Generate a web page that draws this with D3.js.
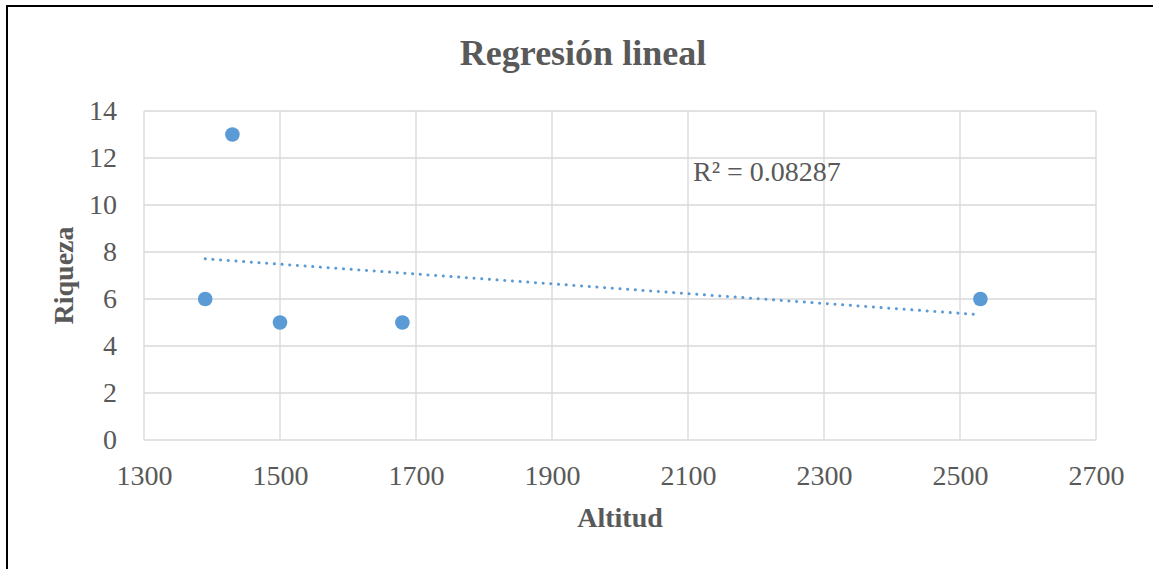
<!DOCTYPE html>
<html>
<head>
<meta charset="utf-8">
<script src="https://cdn.jsdelivr.net/npm/d3@7"></script>
<style>
  body { margin: 0; background: #fff; }
  svg { display: block; }
</style>
</head>
<body>
<div id="chart"></div>
<script>
// data
var altitud = [1390, 1430, 1500, 1680, 2530];
var riqueza = [6, 13, 5, 5, 6];
// trendline ends (as drawn)
var trendX = [1390, 2530];
var trendY = [7.71, 5.33];
var xTicks = [1300, 1500, 1700, 1900, 2100, 2300, 2500, 2700];
var yTicks = [0, 2, 4, 6, 8, 10, 12, 14];
var r2Label = "R² = 0.08287";

var W = 1153, H = 569;
var margin = {top: 111, right: 57, bottom: 129, left: 144},
    width = W - margin.left - margin.right,
    height = H - margin.top - margin.bottom;

var svg = d3.select("#chart").append("svg")
    .attr("width", W)
    .attr("height", H);

// outer frame
svg.append("rect")
  .attr("x", 7).attr("y", 6)
  .attr("width", W + 20).attr("height", H + 20)
  .attr("fill", "none")
  .attr("stroke", "#000")
  .attr("stroke-width", 2);

var g = svg.append("g")
  .attr("transform", "translate(" + margin.left + "," + margin.top + ")");

var x = d3.scaleLinear().domain([1300, 2700]).range([0, width]);
var y = d3.scaleLinear().domain([0, 14]).range([height, 0]);

var font = "'Liberation Serif', 'Times New Roman', serif";
var grey = "#595959";

// gridlines
g.selectAll(".vgrid").data(xTicks).enter().append("line")
  .attr("x1", function(d) { return x(d); }).attr("x2", function(d) { return x(d); })
  .attr("y1", 0).attr("y2", height)
  .attr("stroke", "#d9d9d9").attr("stroke-width", 1.3);
g.selectAll(".hgrid").data(yTicks).enter().append("line")
  .attr("x1", 0).attr("x2", width)
  .attr("y1", function(d) { return y(d); }).attr("y2", function(d) { return y(d); })
  .attr("stroke", "#d9d9d9").attr("stroke-width", 1.3);

// axes (labels only)
var xAxis = g.append("g")
  .attr("transform", "translate(0," + height + ")")
  .call(d3.axisBottom(x).tickValues(xTicks).tickSize(0).tickPadding(45).tickFormat(d3.format("d")));
var yAxis = g.append("g")
  .call(d3.axisLeft(y).tickValues(yTicks).tickSize(0).tickPadding(27).tickFormat(d3.format("d")));
[xAxis, yAxis].forEach(function(a) {
  a.select(".domain").remove();
  a.selectAll("text")
    .attr("fill", grey)
    .style("font-family", font)
    .style("font-size", "28px");
});
xAxis.selectAll("text").attr("dy", null).attr("dominant-baseline", "auto");

// trendline
g.append("path")
  .datum(d3.zip(trendX, trendY))
  .attr("fill", "none")
  .attr("stroke", "#5b9bd5")
  .attr("stroke-width", 3)
  .attr("stroke-linecap", "round")
  .attr("stroke-dasharray", "0.1,7.6")
  .attr("d", d3.line()
    .x(function(d) { return x(d[0]); })
    .y(function(d) { return y(d[1]); }));

// points
g.selectAll(".dot").data(d3.zip(altitud, riqueza)).enter().append("circle")
  .attr("cx", function(d) { return x(d[0]); })
  .attr("cy", function(d) { return y(d[1]); })
  .attr("r", 7.3)
  .attr("fill", "#5b9bd5");

// R² label
g.append("text")
  .attr("x", x(2100) + 5)
  .attr("y", y(11.1) + 2)
  .attr("fill", grey)
  .style("font-family", font)
  .style("font-size", "28px")
  .text(r2Label);

// title
svg.append("text")
  .attr("x", 583)
  .attr("y", 65)
  .attr("text-anchor", "middle")
  .attr("fill", grey)
  .style("font-family", font)
  .style("font-weight", "bold")
  .style("font-size", "36px")
  .text("Regresión lineal");

// axis titles
svg.append("text")
  .attr("x", margin.left + width / 2)
  .attr("y", 527)
  .attr("text-anchor", "middle")
  .attr("fill", grey)
  .style("font-family", font)
  .style("font-weight", "bold")
  .style("font-size", "28px")
  .text("Altitud");

svg.append("text")
  .attr("transform", "translate(73," + (margin.top + height / 2) + ") rotate(-90)")
  .attr("text-anchor", "middle")
  .attr("fill", grey)
  .style("font-family", font)
  .style("font-weight", "bold")
  .style("font-size", "28px")
  .text("Riqueza");
</script>
</body>
</html>
